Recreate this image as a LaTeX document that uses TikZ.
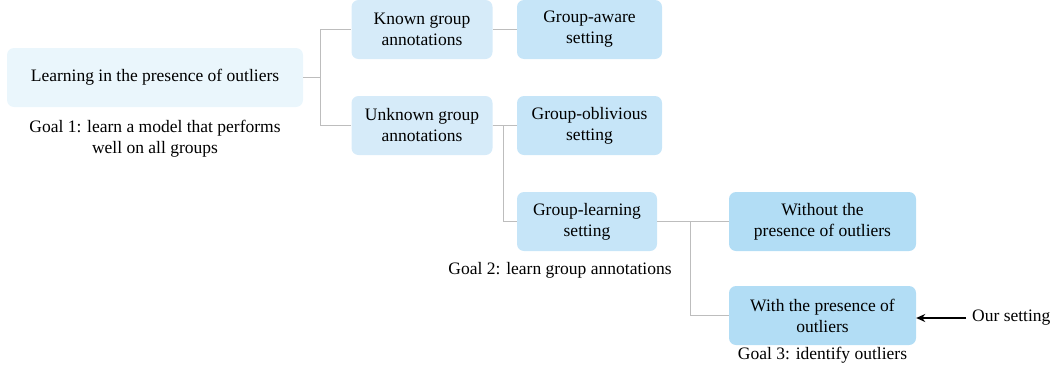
\documentclass[tikz,border=0pt]{standalone}
\usepackage{fontspec}
\setmainfont{Liberation Serif}
\usetikzlibrary{arrows.meta}
\definecolor{c0}{HTML}{EAF6FC}
\definecolor{c1}{HTML}{D6EBF9}
\definecolor{c2}{HTML}{C6E5F8}
\definecolor{c3}{HTML}{B2DDF5}
\definecolor{linec}{HTML}{BDBDBD}
\tikzset{
  box/.style={rectangle, rounded corners=7pt, draw=none, align=center, inner sep=0pt,
    minimum height=59pt, font=\fontsize{17.5}{21}\selectfont},
  lvl0/.style={box, fill=c0, minimum width=296pt},
  lvl1/.style={box, fill=c1, minimum width=141pt},
  lvl2/.style={box, fill=c2, minimum width=145pt},
  lvl3/.style={box, fill=c3, minimum width=187pt},
  goal/.style={align=center, inner sep=0pt, font=\fontsize{17.5}{21}\selectfont},
  conn/.style={draw=linec, line width=1pt},
  ptr/.style={-{Stealth[length=9pt,width=8pt]}, line width=2pt, black}
}
\begin{document}
\begin{tikzpicture}[x=1pt,y=-1pt]
\useasboundingbox (0,0) rectangle (1055,370);
\node[lvl0] (root) at (155,77.5) {Learning in the presence of outliers};
\node[goal] (g1) at (155,139) {Goal 1: learn a model that performs\\well on all groups};
\node[lvl1] (known) at (422,29.5) {Known group\\annotations};
\node[lvl1] (unknown) at (422,125.5) {Unknown group\\annotations};
\node[lvl2] (aware) at (589.5,29.5) {Group-aware\\setting};
\node[lvl2] (obliv) at (589.5,125.5) {Group-oblivious\\setting};
\node[lvl2, minimum width=140pt] (learn) at (587,221.5) {Group-learning\\setting};
\node[goal] (g2) at (560,270) {Goal 2: learn group annotations};
\node[lvl3] (without) at (822.5,221.5) {Without the\\presence of outliers};
\node[lvl3] (with) at (822.5,315.5) {With the presence of\\outliers};
\node[goal] (g3) at (822.5,355) {Goal 3: identify outliers};
\node[goal, anchor=west] (ours) at (972,318) {Our setting};
\coordinate (tail) at (966,318);

\draw[conn] (root.east) -- ++(17,0) |- (known.west);
\draw[conn] (root.east) -- ++(17,0) |- (unknown.west);
\draw[conn] (known.east) -- (aware.west);
\draw[conn] (unknown.east) -- (obliv.west);
\draw[conn] (unknown.east) -- ++(11,0) |- (learn.west);
\draw[conn] (learn.east) -- (without.west);
\draw[conn] (learn.east) -- ++(33,0) |- (with.west);
\draw[ptr] (tail) -- (with.east |- tail);
\end{tikzpicture}
\end{document}
